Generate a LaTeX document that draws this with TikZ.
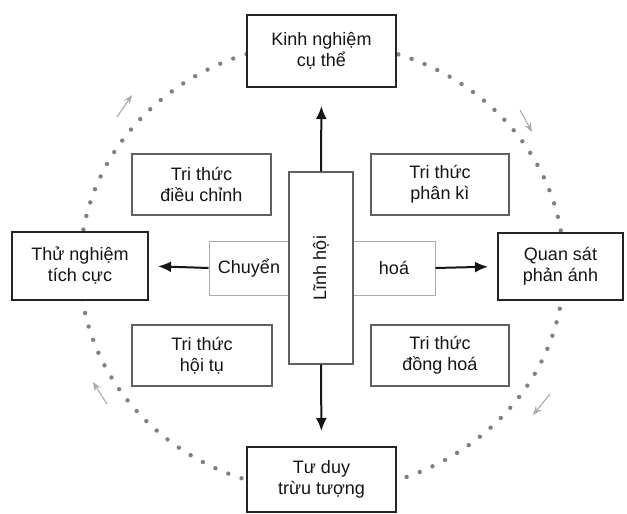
\documentclass[tikz,border=0pt]{standalone}
\usepackage{fontspec}
\setmainfont{Liberation Sans}
\usetikzlibrary{arrows.meta}
\definecolor{ink}{HTML}{151515}
\definecolor{boxline}{HTML}{252525}
\definecolor{midline}{HTML}{606060}
\definecolor{faint}{HTML}{ABABAB}
\definecolor{dotcol}{HTML}{808080}
\begin{document}
\begin{tikzpicture}[x=1pt,y=-1pt,
  txt/.style={font=\fontsize{18}{21}\selectfont, text=ink, align=center, inner sep=0pt},
  mainbox/.style={txt, draw=boxline, line width=2pt, fill=white},
  knowbox/.style={txt, draw=midline, line width=1.3pt, fill=white},
  lhbox/.style={txt, draw=midline, line width=1.2pt, fill=white},
  softbox/.style={txt, draw=faint, line width=1pt, fill=white},
  bigarrow/.style={draw=ink, line width=2pt, -{Latex[length=13pt,width=11pt]}},
  cyclearrow/.style={draw=faint, line width=1.1pt, -{Stealth[length=9pt,width=7pt]}},
  dotring/.style={draw=dotcol, line width=4.4pt, line cap=round, dash pattern=on 0pt off 14pt}
]
\useasboundingbox (0,0) rectangle (627,514);
\coordinate (c) at (322,267);
\draw[dotring] (c) ellipse [x radius=242, y radius=224];

% small direction arrows along the cycle
\coordinate (ul1) at (117,117); \coordinate (ul2) at (132,95);
\coordinate (ur1) at (520,110); \coordinate (ur2) at (532,132);
\coordinate (lr1) at (550,394); \coordinate (lr2) at (533,415);
\coordinate (ll1) at (107,404); \coordinate (ll2) at (93,382);
\draw[cyclearrow] (ul1) -- (ul2);
\draw[cyclearrow] (ur1) -- (ur2);
\draw[cyclearrow] (lr1) -- (lr2);
\draw[cyclearrow] (ll1) -- (ll2);

% outer stage boxes
\node[mainbox, minimum width=149pt, minimum height=72pt] (top) at (321.5,51) {Kinh nghiệm\\cụ thể};
\node[mainbox, minimum width=149pt, minimum height=65pt] (bot) at (321.5,479.5) {Tư duy\\trừu tượng};
\node[mainbox, minimum width=136pt, minimum height=68pt] (lft) at (80,266) {Thử nghiệm\\tích cực};
\node[mainbox, minimum width=125pt, minimum height=67pt] (rgt) at (560.5,266.5) {Quan sát\\phản ánh};

% knowledge boxes
\node[knowbox, minimum width=139pt, minimum height=61pt] (tl) at (201.5,184.5) {Tri thức\\điều chỉnh};
\node[knowbox, minimum width=138pt, minimum height=61pt] (tr) at (440,184.5) {Tri thức\\phân kì};
\node[knowbox, minimum width=140pt, minimum height=61pt] (bl) at (202,355.5) {Tri thức\\hội tụ};
\node[knowbox, minimum width=138pt, minimum height=61pt] (br) at (440,355.5) {Tri thức\\đồng hoá};

% central cross
\node[softbox, minimum width=80pt, minimum height=54pt] (chuyen) at (249,268) {Chuyển};
\node[softbox, minimum width=82pt, minimum height=54pt] (hoa) at (394,268) {hoá};
\node[lhbox, minimum width=64pt, minimum height=192pt] (lh) at (321,268) {};
\node[txt, rotate=90] (lhtext) at (lh.center) {Lĩnh hội};

% arrows
\draw[bigarrow, shorten >=18pt] (lh.north) -- (top.south);
\draw[bigarrow, shorten >=15pt] (lh.south) -- (bot.north);
\draw[bigarrow, shorten >=9pt] (chuyen.west) -- (lft.east);
\draw[bigarrow, shorten >=9pt] (hoa.east) -- (rgt.west);
\end{tikzpicture}
\end{document}
